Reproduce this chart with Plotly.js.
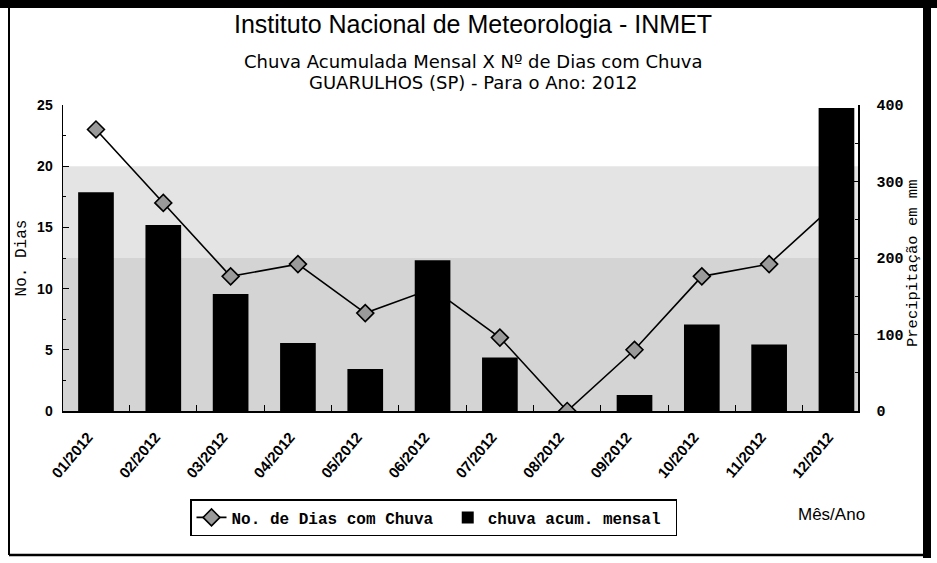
<!DOCTYPE html>
<html>
<head>
<meta charset="utf-8">
<script src="https://cdn.plot.ly/plotly-3.0.1.min.js"></script>
<style>html,body{margin:0;padding:0;background:#fff;}#chart{width:937px;height:563px;}</style>
</head>
<body>
<div id="chart"></div>
<script>
var months = ["01/2012","02/2012","03/2012","04/2012","05/2012","06/2012","07/2012","08/2012","09/2012","10/2012","11/2012","12/2012"];
var rainDays = [23, 17, 11, 12, 8, 10, 6, 0, 5, 11, 12, 17];
var rainMm = [286, 243, 153, 89, 55, 197, 70, 0, 21, 113, 87, 396];
var leftTicks = [0, 5, 10, 15, 20, 25];
var rightTicks = [0, 100, 200, 300, 400];
var seriesNames = ["No. de Dias com Chuva", "chuva acum. mensal"];

var L = 63, R = 858, T = 105, B = 411, W = 937, H = 563;
function px(x){ return (x - L) / (R - L); }
function py(y){ return (B - y) / (B - T); }

var mono = "Liberation Mono, DejaVu Sans Mono, monospace";
var sans = "Liberation Sans, Arial, sans-serif";
var wide = "DejaVu Sans, Liberation Sans, sans-serif";
var nb = "\u00a0";

var traces = [
  {
    type: "scatter", mode: "lines+markers", name: seriesNames[0] + nb,
    x: months, y: rainDays, yaxis: "y",
    line: {color: "#000", width: 1.6},
    marker: {symbol: "diamond", size: 13, color: "#9a9a9a", line: {color: "#000", width: 1.6}}
  },
  {
    type: "bar", name: seriesNames[1] + nb,
    x: months, y: rainMm, yaxis: "y2",
    marker: {color: "#000"}, width: 0.53
  }
];

var layout = {
  width: W, height: H,
  margin: {l: L, r: W - R, t: T, b: H - B},
  paper_bgcolor: "#fff", plot_bgcolor: "#fff",
  showlegend: true,
  legend: {
    orientation: "h", x: px(190), y: py(499), xanchor: "left", yanchor: "top",
    bordercolor: "#000", borderwidth: 1.5, bgcolor: "#fff",
    font: {family: mono, size: 16, color: "#000", weight: "bold"},
    traceorder: "normal", itemwidth: 30
  },
  xaxis: {
    type: "category", range: [-0.49, 11.32],
    showline: true, linecolor: "#000", linewidth: 1.5,
    ticks: "inside", ticklen: 6, tickcolor: "#000", tickson: "boundaries",
    tickangle: -50, showgrid: false, zeroline: false,
    ticklabelstandoff: 10, ticklabelshift: -8,
    tickfont: {family: sans, size: 15, color: "#000", weight: "bold"}
  },
  yaxis: {
    range: [0, 25], tickvals: leftTicks, showgrid: false, zeroline: false,
    showline: true, linecolor: "#000", linewidth: 1.5,
    ticks: "inside", ticklen: 6, tickcolor: "#000",
    minor: {dtick: 2.5, ticks: "inside", ticklen: 3, tickcolor: "#000"},
    tickfont: {family: sans, size: 14, color: "#000", weight: "bold"},
    ticklabelstandoff: 6,
    title: {text: "No. Dias", font: {family: mono, size: 16, color: "#000"}, standoff: 6}
  },
  yaxis2: {
    range: [0, 400], tickvals: rightTicks, overlaying: "y", side: "right",
    showgrid: false, zeroline: false,
    showline: true, linecolor: "#000", linewidth: 1.5,
    ticks: "inside", ticklen: 6, tickcolor: "#000",
    minor: {dtick: 50, ticks: "inside", ticklen: 3, tickcolor: "#000"},
    tickfont: {family: mono, size: 15, color: "#000", weight: "bold"},
    ticklabelstandoff: 14
  },
  shapes: [
    {type: "rect", xref: "paper", yref: "y", x0: 0, x1: 1, y0: 0, y1: 12.5, fillcolor: "#d4d4d4", line: {width: 0}, layer: "below"},
    {type: "rect", xref: "paper", yref: "y", x0: 0, x1: 1, y0: 12.5, y1: 20, fillcolor: "#e4e4e4", line: {width: 0}, layer: "below"},
    {type: "rect", xref: "paper", yref: "paper", x0: px(0), x1: px(W), y0: py(0), y1: py(8), fillcolor: "#000", line: {width: 0}},
    {type: "line", xref: "paper", yref: "paper", x0: px(9), x1: px(9), y0: py(8), y1: py(555), line: {color: "#000", width: 2}},
    {type: "rect", xref: "paper", yref: "paper", x0: px(923), x1: px(931), y0: py(8), y1: py(558), fillcolor: "#000", line: {width: 0}},
    {type: "line", xref: "paper", yref: "paper", x0: px(9), x1: px(924), y0: py(555), y1: py(555), line: {color: "#000", width: 2.5}}
  ],
  annotations: [
    {xref: "paper", yref: "paper", x: px(473), y: py(24), text: "Instituto Nacional de Meteorologia - INMET", showarrow: false,
     font: {family: sans, size: 25, color: "#000"}, xanchor: "center", yanchor: "middle"},
    {xref: "paper", yref: "paper", x: px(473), y: py(61), text: "Chuva Acumulada Mensal X Nº de Dias com Chuva", showarrow: false,
     font: {family: wide, size: 18, color: "#000"}, xanchor: "center", yanchor: "middle"},
    {xref: "paper", yref: "paper", x: px(473), y: py(82), text: "GUARULHOS (SP) - Para o Ano: 2012", showarrow: false,
     font: {family: wide, size: 18, color: "#000"}, xanchor: "center", yanchor: "middle"},
    {xref: "paper", yref: "paper", x: px(913), y: py(264), text: "Precipitação em mm", showarrow: false, textangle: -90,
     font: {family: mono, size: 15.5, color: "#000"}, xanchor: "center", yanchor: "middle"},
    {xref: "paper", yref: "paper", x: px(831), y: py(514), text: "Mês/Ano", showarrow: false,
     font: {family: sans, size: 17, color: "#000"}, xanchor: "center", yanchor: "middle"}
  ]
};

Plotly.newPlot("chart", traces, layout, {displayModeBar: false, staticPlot: true});
</script>
</body>
</html>
